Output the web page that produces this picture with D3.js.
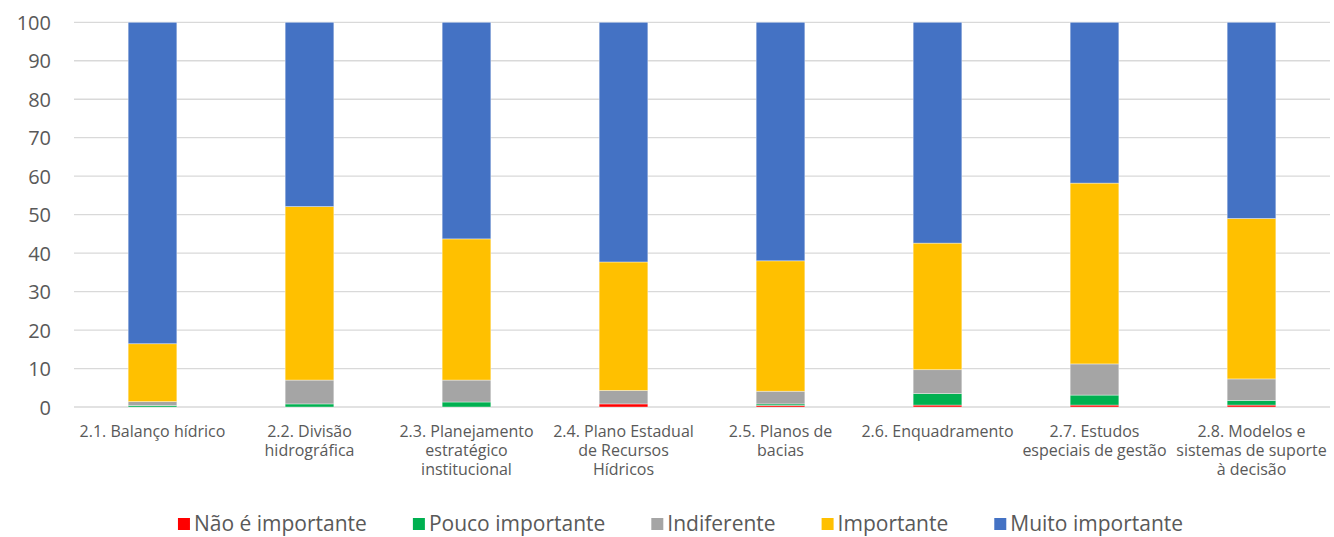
<!DOCTYPE html>
<html><head><meta charset="utf-8">
<script src="https://cdn.jsdelivr.net/npm/d3@7"></script>
<style>body{margin:0;background:#fff;} svg{display:block;} text{font-family:"Open Sans", Lato, sans-serif;}</style>
</head><body><svg id="chart" width="1334" height="537"></svg>
<script>
const categories = [
  ["2.1. Balanço hídrico"],
  ["2.2. Divisão", "hidrográfica"],
  ["2.3. Planejamento", "estratégico", "institucional"],
  ["2.4. Plano Estadual", "de Recursos", "Hídricos"],
  ["2.5. Planos de", "bacias"],
  ["2.6. Enquadramento"],
  ["2.7. Estudos", "especiais de gestão"],
  ["2.8. Modelos e", "sistemas de suporte", "à decisão"]
];
const seriesNames = ["Não é importante", "Pouco importante", "Indiferente", "Importante", "Muito importante"];
const seriesColors = ["#ff0000", "#00b050", "#a5a5a5", "#ffc000", "#4472c4"];
const naoImportante   = [0,   0,   0,   0.8, 0.4, 0.5, 0.5, 0.5];
const poucoImportante = [0.4, 0.8, 1.3, 0,   0.4, 3.0, 2.6, 1.2];
const indiferente     = [1.0, 6.2, 5.7, 3.5, 3.3, 6.2, 8.1, 5.6];
const importante      = [15.05, 45.1, 36.7, 33.4, 33.9, 32.9, 47.0, 41.7];
const muitoImportante = [83.55, 47.9, 56.3, 62.3, 62.0, 57.4, 41.8, 51.0];
const yTicks = [0,10,20,30,40,50,60,70,80,90,100];

const seriesValues = [naoImportante, poucoImportante, indiferente, importante, muitoImportante];
const svg = d3.select("#chart");
const pLeft = 74, pRight = 1330, pTop = 22.3, pBottom = 407;

const x = d3.scaleBand().domain(d3.range(categories.length)).range([pLeft, pRight]).paddingInner(0.69).paddingOuter(0.345);
const y = d3.scaleLinear().domain([0, 100]).range([pBottom, pTop]);

// gridlines
svg.append("g").selectAll("line").data(yTicks).join("line")
  .attr("x1", pLeft).attr("x2", pRight)
  .attr("y1", d => y(d)).attr("y2", d => y(d))
  .attr("stroke", "#d9d9d9").attr("stroke-width", 1.3);

// y axis labels
const yAxis = d3.axisLeft(y).tickValues(yTicks).tickSize(0).tickPadding(0);
const ya = svg.append("g").attr("transform", `translate(51,0)`).call(yAxis);
ya.select(".domain").remove();
ya.selectAll("text").attr("fill", "#595959").style("font-size", "20px").style("font-family", "'Open Sans', sans-serif").attr("dy", "0.35em");

// stacked data
const rows = categories.map((c, i) => {
  const o = {i};
  seriesNames.forEach((s, k) => o[s] = seriesValues[k][i]);
  return o;
});
const stack = d3.stack().keys(seriesNames)(rows);

svg.append("g").selectAll("g").data(stack).join("g")
  .attr("fill", (d, k) => seriesColors[k])
  .selectAll("rect").data(d => d).join("rect")
  .attr("x", d => x(d.data.i))
  .attr("width", x.bandwidth())
  .attr("y", d => y(d[1]))
  .attr("height", d => y(d[0]) - y(d[1]))
  .attr("stroke", "#ffffff").attr("stroke-opacity", 0.5).attr("stroke-width", 0.75);

// category labels
const xl = svg.append("g");
categories.forEach((lines, i) => {
  const t = xl.append("text").attr("x", x(i) + x.bandwidth() / 2).attr("y", 437)
    .attr("text-anchor", "middle").attr("fill", "#595959").style("font-size", "16px");
  lines.forEach((l, j) => t.append("tspan").attr("x", x(i) + x.bandwidth() / 2).attr("dy", j === 0 ? 0 : 19).text(l));
});

// legend
const lg = svg.append("g");
const legendFont = "21px";
const tmp = seriesNames.map(n => {
  const t = lg.append("text").style("font-size", legendFont).text(n);
  const w = t.node().getComputedTextLength(); t.remove(); return w;
});
const sq = 12, gapSq = 4, gapItem = 46;
const total = tmp.reduce((a, w) => a + sq + gapSq + w, 0) + gapItem * (tmp.length - 1);
let cx = 680.5 - total / 2;
seriesNames.forEach((n, k) => {
  lg.append("rect").attr("x", cx).attr("y", 518).attr("width", sq).attr("height", sq).attr("fill", seriesColors[k]);
  lg.append("text").attr("x", cx + sq + gapSq).attr("y", 531).attr("fill", "#595959").style("font-size", legendFont).text(n);
  cx += sq + gapSq + tmp[k] + gapItem;
});
</script></body></html>
